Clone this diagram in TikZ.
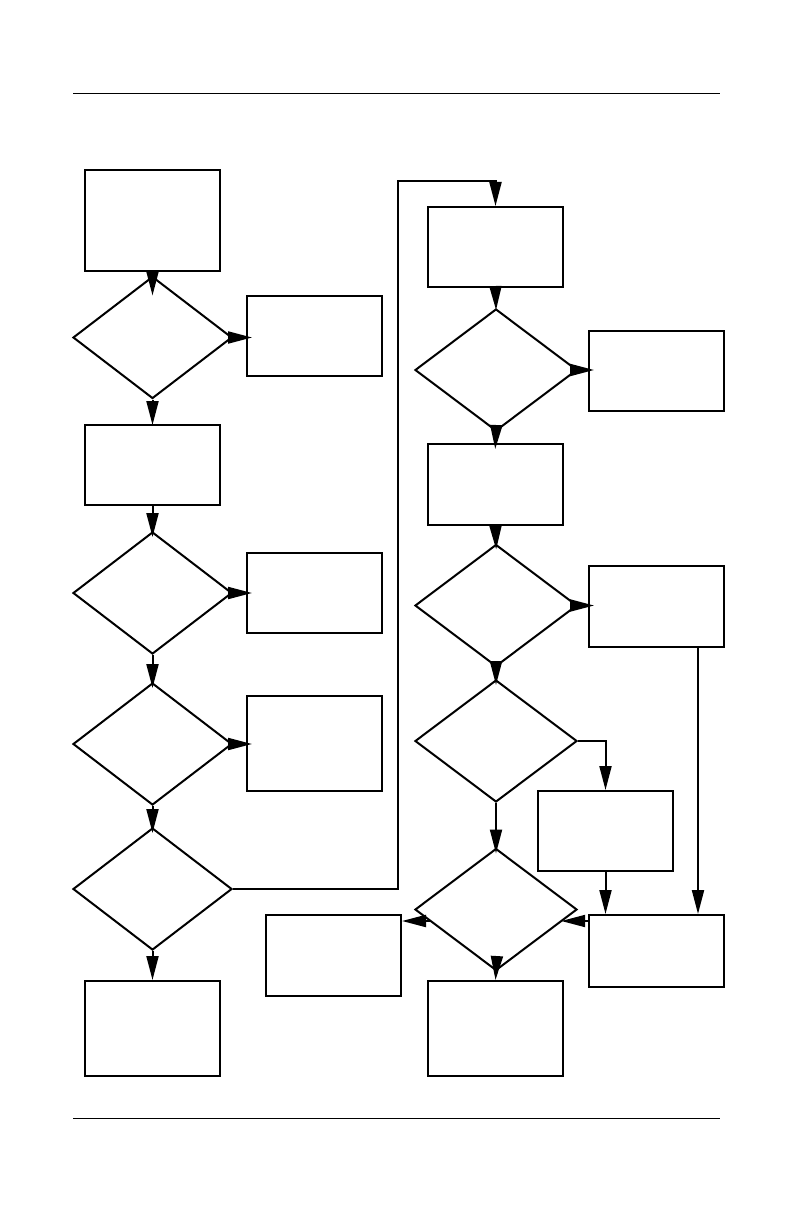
\documentclass[tikz,border=0pt]{standalone}
\usetikzlibrary{shapes.geometric,arrows.meta,calc}
\begin{document}
\begin{tikzpicture}[x=1pt,y=-1pt,
  box/.style={draw,line width=2pt,rectangle,inner sep=0pt,minimum width=135pt},
  dia/.style={draw,line width=2pt,diamond,inner sep=0pt,minimum width=#1,minimum height=122pt},
  dia/.default=159pt,
  arr/.style={line width=2pt,shorten >=-6pt,-{Triangle[length=24pt,width=12pt]}},
  rule/.style={line width=0.8pt}]
\useasboundingbox (0,0) rectangle (793,1225);
\draw[rule] (73,93) -- (720,93);
\draw[rule] (73,1118) -- (720,1118);
% left column
\node[box,minimum height=101pt] (B1) at (152.5,220.5) {};
\node[dia] (D1) at (152.5,337.5) {};
\node[box,minimum height=80pt] (R1) at (314.5,336) {};
\node[box,minimum height=80pt] (B2) at (152.5,465) {};
\node[dia] (D2) at (152.5,593) {};
\node[box,minimum height=80pt] (R2) at (314.5,593) {};
\node[dia] (D3) at (152.5,744) {};
\node[box,minimum height=95pt] (R3) at (314.5,743.5) {};
\node[dia] (D4) at (152.5,889) {};
\node[box,minimum height=95pt] (B3) at (152.5,1028.5) {};
% right column
\node[box,minimum height=80pt] (B4) at (495.5,247) {};
\node[dia=162pt] (D5) at (496,370) {};
\node[box,minimum height=80pt] (R4) at (656.5,371) {};
\node[box,minimum height=81pt] (B5) at (495.5,484.5) {};
\node[dia=162pt] (D6) at (496,605.5) {};
\node[box,minimum height=81pt] (R5) at (656.5,606.5) {};
\node[dia=162pt] (D7) at (496,741) {};
\node[box,minimum height=80pt] (R6) at (605.5,831) {};
\node[dia=162pt] (D8) at (496,909.5) {};
\node[box,minimum height=72pt] (R7) at (656.5,951) {};
\node[box,minimum height=81pt] (L1) at (333.5,955.5) {};
\node[box,minimum height=95pt] (B6) at (495.5,1028.5) {};
\coordinate (c1) at (398,181);
% left connectors
\draw[arr,shorten >=-20pt] (B1.south) -- (D1.north);
\draw[arr] (D1.east) -- (D1.east -| R1.west);
\draw[arr,shorten >=-1pt] (D1.south) -- (B2.north);
\draw[arr] (B2.south) -- (D2.north);
\draw[arr] (D2.east) -- (D2.east -| R2.west);
\draw[arr] (D2.south) -- (D3.north);
\draw[arr] (D3.east) -- (D3.east -| R3.west);
\draw[arr] (D3.south) -- (D4.north);
\draw[arr,shorten >=0pt] (D4.south) -- (B3.north);
\draw[arr,shorten >=0pt] (D4.east) -| (c1) -| (B4.north);
% right connectors
\draw[arr,shorten >=-2pt] (B4.south) -- (D5.north);
\draw[arr] (D5.east) -- (D5.east -| R4.west);
\draw[arr] (D5.south) -- (B5.north);
\draw[arr] (B5.south) -- (D6.north);
\draw[arr] (D6.east) -- (D6.east -| R5.west);
\draw[arr] (D6.south) -- (D7.north);
\draw[arr,shorten >=0pt] (D7.east) -| (R6.north);
\draw[arr] (D7.south) -- (D8.north);
\draw[arr,shorten >=0pt] (R6.south) -- (R6.south |- R7.north);
\draw[arr,shorten >=0pt] ([xshift=41.5pt]R5.south) -- ([xshift=41.5pt]R5.south |- R7.north);
\coordinate (p) at ($(R7.north west)+(0,7)$);
\draw[arr,shorten >=0pt] (p) -- (p -| D8.-11);
\draw[arr,shorten >=0pt] (p -| D8.191) -- (p -| L1.east);
\draw[arr,shorten >=0pt] (D8.south) -- (B6.north);
\end{tikzpicture}
\end{document}
